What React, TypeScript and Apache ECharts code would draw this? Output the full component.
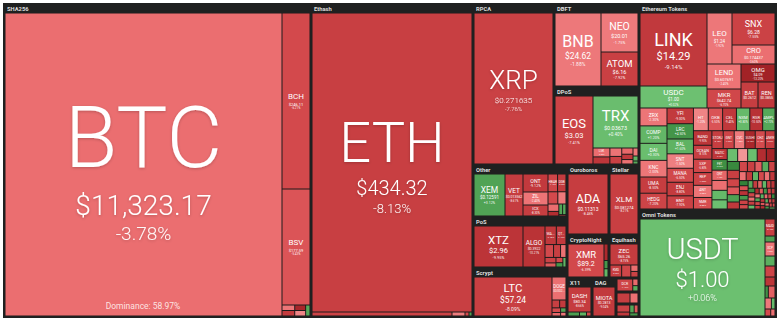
import React, { useEffect, useRef } from "react";
import * as echarts from "echarts";

type Coin = [string, string, number, number]; // symbol, price, 24h change %, tile weight
type Minor = [string, number, number]; // symbol, 24h change %, tile weight

// ---------- data (tile weights) ----------
const GROUP_WEIGHTS: [string, number][] = [
  ["SHA256", 96091], ["Ethash", 50706], ["RPCA", 13041], ["DBFT", 7055], ["DPoS", 6630],
  ["Other", 4888], ["PoS", 4794], ["Scrypt", 4606], ["Ouroboros", 2940], ["Stellar", 2100],
  ["CryptoNight", 1806], ["Equihash", 1290], ["X11", 975], ["DAG", 936],
  ["Blake256", 322], ["PoC", 276], ["Multiple", 299],
  ["Ethereum Tokens", 28222], ["Omni Tokens", 14659], ["Ethereum Tokens small caps", 13635],
];

const SHA256_COINS: Coin[] = [
  ["BTC", "$11,323.17", -3.78, 83931],
  ["BCH", "$246.11", -6.21, 4928],
  ["BSV", "$177.59", -5.43, 3248],
];
const SHA256_MINOR: Minor[] = [["NMC", -2.1, 70], ["PPC", -8.8, 70], ["EMC", -12.5, 60], ["UNO", -1.1, 60], ["DEM", 2.6, 48]];

const ETHASH_COINS: Coin[] = [["ETH", "$434.32", -8.13, 47840]];
const ETHASH_MINOR: Minor[] = [["ETC", -7.4, 560], ["ETP", -1.6, 52], ["CLO", -6.0, 16], ["UBQ", 3.1, 12]];

const RPCA_COINS: Coin[] = [["XRP", "$0.271635", -7.76, 11929]];
const DBFT_COINS: Coin[] = [["BNB", "$24.62", -1.88, 3358], ["NEO", "$20.01", -1.75, 1443], ["ATOM", "$6.16", -7.92, 1258]];
const DPOS_COINS: Coin[] = [["EOS", "$3.03", -7.41, 2584], ["TRX", "$0.03673", 0.4, 2340]];
const DPOS_MINOR: Minor[] = [
  ["LSK", -3.9, 150], ["ARK", -9.6, 120], ["STEEM", -2.7, 100], ["BTS", -7.8, 90], ["HIVE", -4.3, 70],
  ["WAXP", -9.3, 60], ["XWC", -3.2, 50], ["GXC", -2.0, 40], ["EOSDT", 1.5, 25], ["SEELE", 2.5, 15],
];
const OTHER_COINS: Coin[] = [["XEM", "$0.12591", 3.12, 1302], ["VET", "$0.013562", -8.61, 756]];
const OTHER_MINOR: Minor[] = [
  ["ONT", -9.12, 450], ["ZIL", -2.4, 325], ["ICX", -8.3, 275], ["HBAR", -7.1, 170], ["DGB", -8.9, 150],
  ["SC", -6.2, 120], ["NANO", -1.8, 100], ["XVG", -4.0, 80], ["RVN", -11.2, 50], ["BTT", 3.0, 40],
  ["HOT", 2.4, 36], ["NXT", -6.6, 10],
];
const POS_COINS: Coin[] = [["XTZ", "$2.96", -9.95, 2009], ["ALGO", "$0.3922", -10.21, 902]];
const POS_MINOR: Minor[] = [
  ["WAVES", -9.4, 210], ["QTUM", -9.1, 180], ["ONE", -6.3, 110], ["STRAT", -8.1, 90], ["NRG", -3.2, 70],
  ["PIVX", -7.4, 60], ["NAV", -5.1, 45], ["NXS", -6.2, 36], ["BLK", 4.1, 30], ["DCT", 1.5, 30],
];
const SCRYPT_COINS: Coin[] = [["LTC", "$57.24", -8.09, 3042], ["DOGE", "$0.002914", -3.62, 322]];
const SCRYPT_MINOR: Minor[] = [["FTC", -8.1, 60], ["VIA", -9.0, 50], ["EMC2", -6.1, 40], ["DGC", -4.4, 30], ["XMY", 3.0, 24], ["LCC", -2.1, 20]];
const OUROBOROS_COINS: Coin[] = [["ADA", "$0.11313", -8.46, 2400]];
const STELLAR_COINS: Coin[] = [["XLM", "$0.081274", -8.21, 1680]];
const CRYPTONIGHT_COINS: Coin[] = [["XMR", "$89.2", -6.39, 1188]];
const CRYPTONIGHT_MINOR: Minor[] = [["XHV", -11.9, 66], ["AEON", 4.2, 33], ["BCN", 1.3, 33]];
const EQUIHASH_COINS: Coin[] = [["ZEC", "$65.26", -8.75, 588]];
const EQUIHASH_MINOR: Minor[] = [["KMD", -8.3, 140], ["ZEN", -6.9, 110], ["BTCP", -4.0, 46], ["ZCL", -7.7, 40]];
const X11_COINS: Coin[] = [["DASH", "$80.34", -8.66, 575]];
const X11_MINOR: Minor[] = [["CRW", 3.5, 46], ["ION", 1.8, 28], ["XZC", -6.5, 18]];
const DAG_COINS: Coin[] = [["MIOTA", "$0.2813", -9.04, 638]];
const BLAKE256_MINOR: Minor[] = [["DCR", -7.1, 189], ["DNR", -4.2, 35], ["XVC", 2.2, 28]];
const POC_MINOR: Minor[] = [["BTM", -8.4, 130], ["LBC", -3.1, 80]];
const MULTIPLE_MINOR: Minor[] = [["ETN", -7.7, 90], ["GRIN", -9.3, 50], ["BEAM", 2.9, 35], ["AE", -5.1, 30], ["ERG", 4.2, 26]];

const ETH_TOKEN_COINS: Coin[] = [
  ["LINK", "$14.29", -9.14, 4891], ["USDC", "$1.00", 0.02, 1474], ["LEO", "$1.24", -1.92, 1275],
  ["SNX", "$6.28", -7.55, 1376], ["CRO", "$0.174437", -3.6, 817], ["LEND", "$0.607691", -2.4, 850],
  ["MKR", "$642.74", -6.7, 646], ["OMG", "$4.09", -13.2, 612], ["BAT", "$0.2612", -8.4, 442],
  ["REN", "$0.3855", -9.3, 442],
];
const ETH_TOKEN_MINOR: Minor[] = [
  ["ZRX", -2.3, 430], ["COMP", 1.2, 420], ["DAI", 0.3, 410], ["KNC", -2.0, 400], ["UMA", -8.5, 390],
  ["HEDG", -7.2, 380], ["YFI", -9.0, 370], ["LRC", 4.5, 360], ["BAL", 1.6, 350], ["SNT", -1.5, 340],
  ["MANA", -6.5, 330], ["ENJ", -8.8, 320], ["BNT", -7.9, 310], ["HT", -1.2, 300], ["OKB", -5.5, 290],
  ["CEL", -9.4, 280], ["NXM", 0.8, 270], ["RSR", -10.5, 260], ["AMPL", 2.7, 250], ["BAND", -9.9, 240],
  ["OCEAN", -8.1, 230], ["SXP", -6.8, 220], ["REP", -7.6, 210], ["ANT", -2.6, 200], ["NMR", -5.8, 190],
  ["STORJ", -8.4, 180], ["GNT", -7.3, 175], ["CVC", -1.8, 170], ["SUSHI", -12.4, 165], ["CHZ", -6.1, 160],
  ["ANKR", -8.6, 155], ["MATIC", -9.7, 150], ["FET", 5.2, 145], ["QNT", -4.4, 140], ["WBTC", -3.6, 135],
  ["PAXG", 0.9, 130], ["TUSD", 0.1, 125], ["PAX", 0.2, 120], ["BUSD", -0.1, 115], ["HUSD", 0.3, 110],
  ["CRV", -11.2, 105], ["YFII", -13.0, 100], ["SWRV", 6.1, 96], ["CREAM", -8.2, 92], ["MTA", -7.0, 88],
  ["OXT", -5.2, 84], ["BZRX", 3.3, 80], ["DMG", -9.2, 76], ["UTK", -6.6, 72], ["POWR", -8.0, 68],
  ["LOOM", -4.9, 64], ["RLC", 2.2, 60], ["GNO", -7.7, 57], ["MLN", -3.1, 54], ["ELF", -8.9, 51],
  ["POLY", 1.4, 48], ["DENT", -6.3, 46], ["NEXO", -2.8, 44], ["BTMX", -9.5, 42], ["AKRO", 7.1, 40],
  ["ORN", -5.6, 38], ["DIA", -10.1, 37], ["TRB", 3.9, 36], ["KEEP", -7.4, 35], ["PNK", -6.0, 34],
  ["DNT", 2.6, 33], ["REQ", -8.7, 32], ["AST", -4.6, 31], ["MTL", 1.1, 30], ["FUN", -7.8, 29],
  ["QSP", -9.8, 28], ["RDN", 5.6, 27], ["BLZ", -6.9, 26], ["SNM", -3.3, 25], ["VIB", -8.3, 24],
  ["WTC", 0.7, 23], ["LINA", -11.5, 22], ["STMX", -5.0, 21], ["IDEX", 4.8, 20], ["CND", -7.1, 20],
  ["DATA", -9.0, 19], ["MFT", -2.4, 19], ["TEL", 3.1, 18], ["NPXS", -6.4, 18], ["SAND", -8.5, 17],
  ["TOMO", 1.9, 17], ["KAI", -4.1, 16], ["COTI", -7.5, 16], ["PERL", 6.4, 15], ["BOND", -9.3, 15],
  ["JST", -5.3, 14], ["SRM", -10.8, 14], ["LPT", 2.0, 13], ["AUDIO", -6.2, 13], ["ALPHA", -8.1, 12],
  ["GHST", -3.7, 12], ["UBT", 4.4, 11], ["XOR", -7.2, 11], ["DUSK", -5.9, 10], ["ARPA", 0.5, 10],
];
const OMNI_COINS: Coin[] = [["USDT", "$1.00", 0.06, 12125]];
const OMNI_MINOR: Minor[] = [
  ["MAID", -8.1, 170], ["OMNI", 3.4, 60], ["XCP", -2.5, 140], ["SFX", 2.1, 100], ["MSC", -7.2, 110],
  ["AMP", -9.9, 90], ["GEO", 5.0, 40], ["TETH", -4.8, 80], ["DUO", -1.9, 70], ["CNY", 0.8, 40],
  ["EUR", -6.0, 40], ["SEC", -3.5, 30],
];
const DOMINANCE = "Dominance: 58.97%";

// ---------- styles ----------
const DARK = "#1f2020";
const LEAF_LINE = "rgba(30,20,20,0.35)";
const FONT = "Roboto, 'Open Sans', sans-serif";
const LINE = 1.2; // line height factor (keeps text boxes apart)
// label font sizes: [symbol, price, change, optional vertical nudge]
const LABEL_STYLE: Record<string, number[]> = {
  BTC: [86, 28, 19, 1], ETH: [56, 20, 13], XRP: [26, 8, 6], BNB: [16, 8.5, 5], NEO: [10.5, 5.5, 4],
  ATOM: [9.5, 5.5, 4], EOS: [13, 7.5, 4], TRX: [15, 5.5, 4.5], XEM: [8.5, 4.5, 3.5], VET: [6.5, 3.5, 3],
  XTZ: [11.5, 7.5, 4], ALGO: [6.5, 3.5, 3], LTC: [11.5, 8.5, 5], DOGE: [4.5, 3, 0], ADA: [12.5, 5, 3.5],
  XLM: [8, 4, 3], XMR: [9.5, 7, 3.5], ZEC: [6, 4, 3], DASH: [6, 4, 3], MIOTA: [5.5, 3.5, 3],
  LINK: [18, 11, 6], USDC: [8, 4.5, 3], LEO: [8, 4.5, 3], SNX: [9, 5, 3.5], CRO: [7.5, 4, 3],
  LEND: [7.5, 4, 3], MKR: [6, 4, 3], OMG: [6, 3.5, 3], BAT: [5.5, 3.5, 0], REN: [5.5, 3.5, 0],
  USDT: [29, 22, 9], BCH: [8, 4, 3], BSV: [8, 4, 3],
};
const NEG_STOPS: [number, string][] = [[0, "#f29899"], [2, "#ed7678"], [4, "#eb6d6f"], [6, "#d44a4d"], [8, "#c94043"], [11, "#b52e32"], [14, "#9b1e22"]];
const POS_STOPS: [number, string][] = [[0, "#6dc071"], [2, "#5cb060"], [4, "#47994c"], [8, "#2c7a32"]];

function rgb(h: string) {
  const n = parseInt(h.slice(1), 16);
  return [(n >> 16) & 255, (n >> 8) & 255, n & 255];
}
function colorFor(chg: number) {
  const stops = chg < 0 ? NEG_STOPS : POS_STOPS;
  const v = Math.abs(chg);
  for (let i = 1; i < stops.length; i++) {
    const [a, ca] = stops[i - 1];
    const [b, cb] = stops[i];
    if (v <= b) {
      const t = (v - a) / (b - a);
      const A = rgb(ca), B = rgb(cb);
      return `rgb(${A.map((x, k) => Math.round(x + (B[k] - x) * t)).join(",")})`;
    }
  }
  return stops[stops.length - 1][1];
}
const fmtPct = (c: number) => `${c > 0 ? "+" : ""}${c.toFixed(2)}%`;

function makeLabel(name: string, price: string | null, chg: number | null, sizes: number[]) {
  const [a, b, c, nudge] = sizes;
  const nLH = a * LINE, pLH = (b || 1) * LINE, cLH = (c || 1) * LINE;
  const parts = [`{n|${name}}`];
  let h = nLH;
  if (b && price) { parts.push(`{p|${price}}`); h += pLH; }
  if (c && chg != null) { parts.push(`{c|${fmtPct(chg)}}`); h += cLH; }
  const big = a >= 20;
  const shadow = big ? { textShadowColor: "rgba(0,0,0,0.22)", textShadowBlur: 3, textShadowOffsetY: 1 } : {};
  const weight = big ? 300 : 400;
  return {
    show: true,
    position: ["50%", "50%"],
    align: "center",
    verticalAlign: "top",
    offset: [0, -h / 2 + (nudge || 0)],
    padding: 0,
    formatter: parts.join("\n"),
    rich: {
      n: { fontSize: a, lineHeight: nLH, color: "#fff", fontFamily: FONT, fontWeight: weight, align: "center", ...shadow },
      p: { fontSize: b || 1, lineHeight: pLH, color: "#fff", fontFamily: FONT, fontWeight: weight, align: "center", ...shadow },
      c: { fontSize: c || 1, lineHeight: cLH, color: "rgba(255,255,255,0.95)", fontFamily: FONT, fontWeight: weight, align: "center", ...shadow },
    },
  };
}

const gw = (n: string) => (GROUP_WEIGHTS.find((g) => g[0] === n) as [string, number])[1];

function coin(c: Coin) {
  const [sym, price, chg, w] = c;
  const st = LABEL_STYLE[sym];
  return {
    name: sym, value: w,
    itemStyle: { color: colorFor(chg), borderWidth: 0.5, borderColor: LEAF_LINE },
    label: st ? makeLabel(sym, price, chg, st) : { show: false },
  };
}
function minor(m: Minor) {
  const [sym, chg, w] = m;
  const f = Math.min(6, Math.sqrt(w) / 4);
  return {
    name: sym, value: w,
    itemStyle: { color: colorFor(chg), borderWidth: 0.5, borderColor: LEAF_LINE },
    label: w >= 140 ? makeLabel(sym, null, chg, [f, 0, f * 0.7]) : { show: false },
  };
}
function spacer() {
  return {
    name: "", value: 1e-6,
    itemStyle: { color: "rgba(0,0,0,0)", borderColor: "rgba(0,0,0,0)", borderWidth: 0, gapWidth: 0 },
    label: { show: false }, upperLabel: { show: false },
  };
}
function seq(parts: any[]) {
  const out: any[] = [];
  parts.forEach((p, i) => { if (i) out.push(spacer()); out.push(p); });
  return out;
}
const WRAP_STYLE = { borderWidth: 0, gapWidth: 0, borderColor: DARK };
function box(...parts: any[]) {
  return { name: "", children: seq(parts), itemStyle: WRAP_STYLE, upperLabel: { show: false }, label: { show: false } };
}
function mosaic(list: Minor[], weightName?: string) {
  const node: any = { name: "", children: list.map(minor), itemStyle: WRAP_STYLE, upperLabel: { show: false }, label: { show: false } };
  if (weightName) node.value = gw(weightName);
  return node;
}
function group(name: string, parts: any[], header = true) {
  return {
    name, value: gw(name), children: seq(parts),
    itemStyle: { borderWidth: 1, gapWidth: 0, borderColor: DARK },
    label: { show: false },
    upperLabel: header
      ? { show: true, height: 9, color: "#dedede", fontSize: 5.8, lineHeight: 8, fontWeight: "bold", fontFamily: FONT, position: [2, "50%"], verticalAlign: "middle", padding: 0, overflow: "none" }
      : { show: false },
  };
}

function buildTree() {
  const [btc, bch, bsv] = SHA256_COINS.map(coin);
  const [eth] = ETHASH_COINS.map(coin);
  const [xrp] = RPCA_COINS.map(coin);
  const [bnb, neo, atom] = DBFT_COINS.map(coin);
  const [eos, trx] = DPOS_COINS.map(coin);
  const [xem, vet] = OTHER_COINS.map(coin);
  const [xtz, algo] = POS_COINS.map(coin);
  const [ltc, doge] = SCRYPT_COINS.map(coin);
  const [ada] = OUROBOROS_COINS.map(coin);
  const [xlm] = STELLAR_COINS.map(coin);
  const [xmr] = CRYPTONIGHT_COINS.map(coin);
  const [zec] = EQUIHASH_COINS.map(coin);
  const [dash] = X11_COINS.map(coin);
  const [miota] = DAG_COINS.map(coin);
  const [link, usdc, leo, snx, cro, lend, mkr, omg, bat, ren] = ETH_TOKEN_COINS.map(coin);
  const [usdt] = OMNI_COINS.map(coin);

  const sha = group("SHA256", [btc, box(bch, bsv, mosaic(SHA256_MINOR))]);
  const ethash = group("Ethash", [eth, mosaic(ETHASH_MINOR)]);
  const topBlock = box(
    group("RPCA", [xrp]),
    box(group("DBFT", [bnb, box(neo, atom)]), group("DPoS", [eos, box(trx, mosaic(DPOS_MINOR))]))
  );
  const opsCol = box(
    group("Other", [xem, vet, mosaic(OTHER_MINOR)]),
    group("PoS", [xtz, algo, mosaic(POS_MINOR)]),
    group("Scrypt", [ltc, box(doge, mosaic(SCRYPT_MINOR))])
  );
  const rightPart = box(
    box(
      box(group("Ouroboros", [ada]), group("Stellar", [xlm])),
      box(group("CryptoNight", [xmr, mosaic(CRYPTONIGHT_MINOR)]), group("Equihash", [zec, mosaic(EQUIHASH_MINOR)]))
    ),
    box(
      group("X11", [dash, mosaic(X11_MINOR)]),
      group("DAG", [miota]),
      box(
        group("Blake256", [mosaic(BLAKE256_MINOR)], false),
        group("PoC", [mosaic(POC_MINOR)], false),
        group("Multiple", [mosaic(MULTIPLE_MINOR)], false)
      )
    )
  );
  const leftCol = box(topBlock, box(opsCol, rightPart));
  const ethTokens = group("Ethereum Tokens", [
    box(
      box(link, usdc),
      box(box(leo, box(snx, cro)), box(box(lend, mkr), box(omg, box(bat, ren))))
    ),
    mosaic(ETH_TOKEN_MINOR, "Ethereum Tokens small caps"),
  ]);
  const omni = group("Omni Tokens", [usdt, mosaic(OMNI_MINOR)]);
  return seq([sha, box(ethash, leftCol), box(ethTokens, omni)]);
}

export default function App() {
  const ref = useRef<HTMLDivElement>(null);
  useEffect(() => {
    const chart = echarts.init(ref.current as HTMLDivElement, null, { renderer: "svg" });
    chart.setOption({
      animation: false,
      backgroundColor: "#ffffff",
      series: [
        {
          type: "treemap",
          left: 3, top: 3, width: 774, height: 315,
          roam: false, nodeClick: false, sort: false, silent: true,
          breadcrumb: { show: false },
          itemStyle: { borderWidth: 0, gapWidth: 0, borderColor: DARK },
          upperLabel: { show: false },
          label: { show: false },
          levels: [{ itemStyle: { borderWidth: 1, borderColor: DARK, gapWidth: 0 } }],
          data: buildTree(),
        },
      ],
      graphic: [
        {
          type: "text", x: 143, y: 306, z: 100,
          style: { text: DOMINANCE, fill: "rgba(255,238,238,0.92)", fontSize: 8.5, fontFamily: FONT, align: "center", verticalAlign: "middle" },
        },
      ],
    });
    return () => chart.dispose();
  }, []);
  return <div ref={ref} style={{ position: "absolute", left: 0, top: 0, width: 779, height: 323 }} />;
}
